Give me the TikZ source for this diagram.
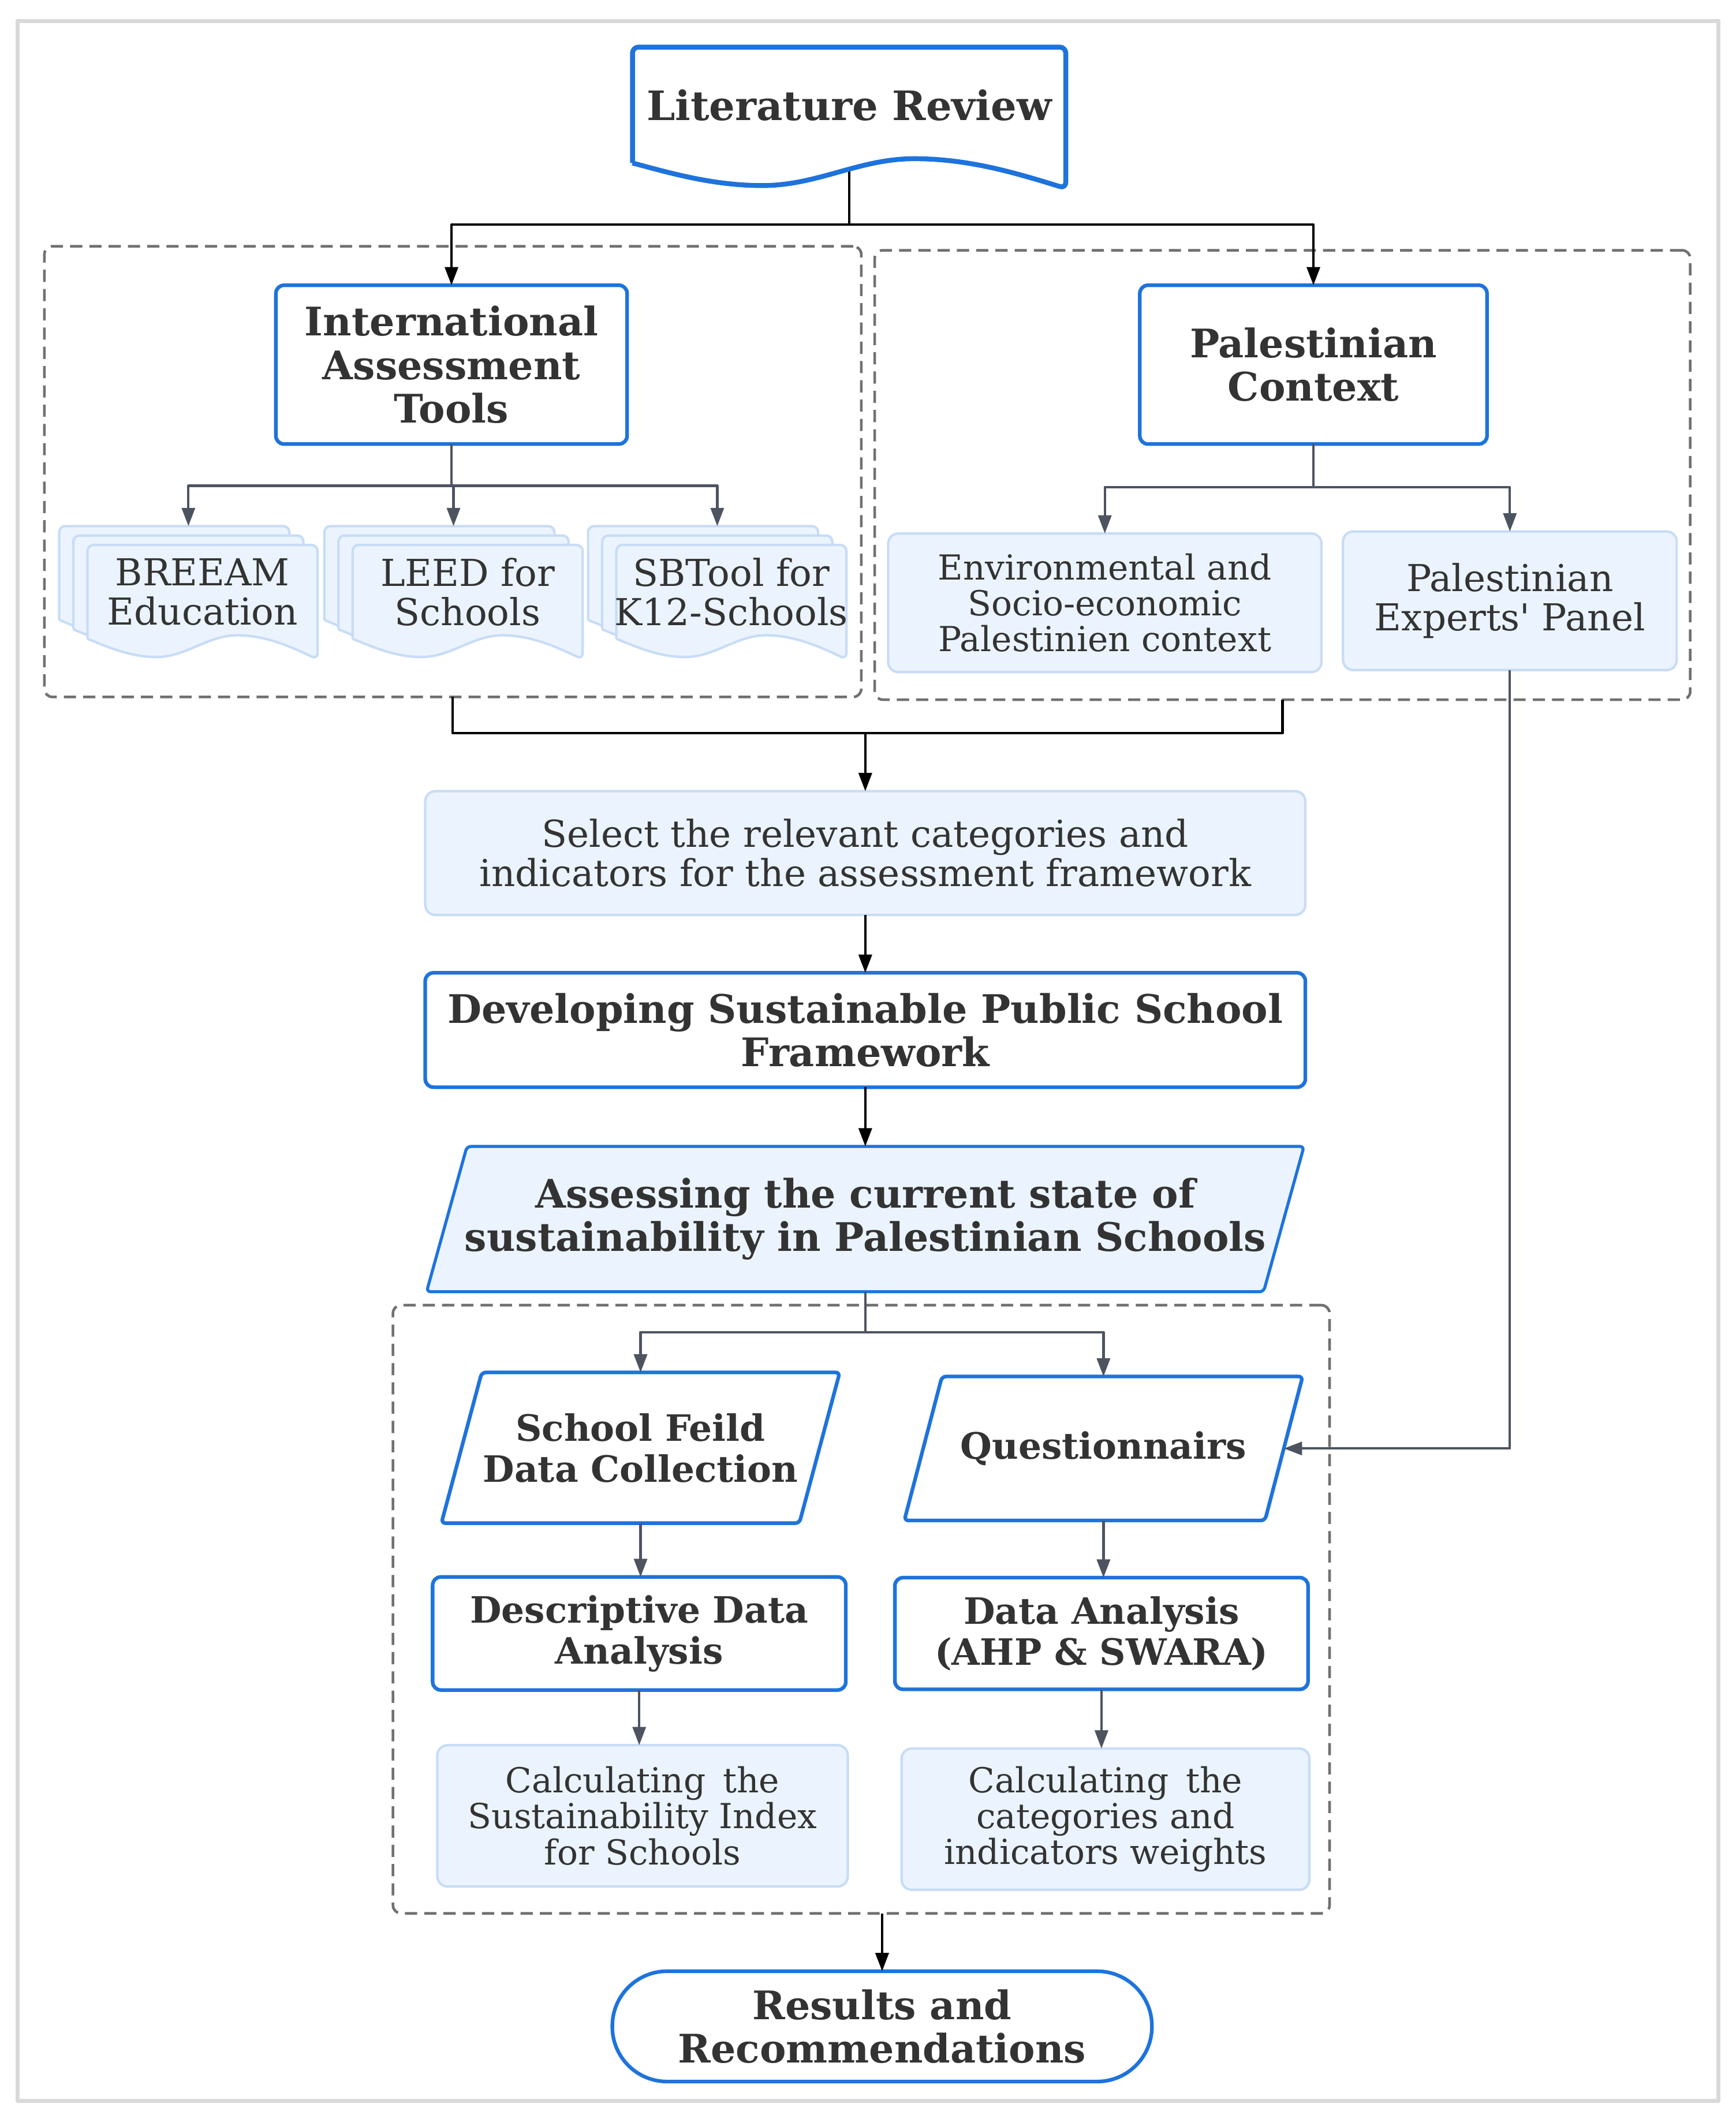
\documentclass[tikz,border=0pt]{standalone}
\usepackage{fontspec}
\setmainfont{DejaVu Serif}
\usetikzlibrary{arrows.meta,positioning,calc,backgrounds}

\definecolor{boxblue}{RGB}{30,115,220}
\definecolor{paleblue}{RGB}{235,244,254}
\definecolor{paleline}{RGB}{200,220,246}
\definecolor{inkgray}{RGB}{51,51,51}
\definecolor{wiregray}{RGB}{77,84,96}
\definecolor{dashgray}{RGB}{112,112,112}
\definecolor{framegray}{RGB}{217,217,217}

\newcommand{\ux}{0.02331cm}
\newcommand{\headfont}{\fontsize{19.4}{21.4}\selectfont\bfseries}
\newcommand{\stepfont}{\fontsize{17.9}{20.2}\selectfont\bfseries}
\newcommand{\bodyfont}{\fontsize{18.3}{19.4}\selectfont}
\newcommand{\smallbody}{\fontsize{17}{17.7}\selectfont}

% sheet with a wavy foot: style, x, y (top), width, height
\newcommand{\wavesheet}[5]{%
  \draw[#1] (#2,{#3+0.82*#5}) [rounded corners=3pt] -- (#2,#3) -- ++(#4,0) -- ++(0,#5)
    [sharp corners] sin ++({-0.35*#4},{-0.21*#5}) cos ++({-0.175*#4},{0.095*#5})
    sin ++({-0.175*#4},{0.095*#5}) cos ++({-0.3*#4},{-0.16*#5}) -- cycle;}
% slanted box round a node: style, node, half slant
\newcommand{\slantoutline}[3]{%
  \draw[#1] ($(#2.north west)+(#3,0)$) -- ($(#2.north east)+(#3,0)$)
    -- ($(#2.south east)-(#3,0)$) -- ($(#2.south west)-(#3,0)$) -- cycle;}

\tikzset{
  every node/.style={text=inkgray, align=center, inner sep=2pt, outer sep=0pt},
  bluebox/.style={draw=boxblue, line width=1.8pt, fill=white, rounded corners=4pt, font=\headfont},
  palebox/.style={draw=paleline, line width=1.2pt, fill=paleblue, rounded corners=5pt, font=\bodyfont},
  headnode/.style={font=\headfont},
  sheetnode/.style={font=\bodyfont},
  groupbox/.style={draw=dashgray, line width=1.3pt, dash pattern=on 6pt off 3.5pt, rounded corners=4pt},
  sheet/.style={draw=paleline, line width=1.2pt, fill=paleblue},
  docline/.style={draw=boxblue, line width=2.4pt, fill=white},
  slantline/.style={draw=boxblue, line width=1.8pt, rounded corners=2pt},
  wire/.style={black, line width=1.2pt},
  graywire/.style={wiregray, line width=1.2pt},
  stadium/.style={draw=boxblue, line width=1.8pt, fill=white, rounded corners=0.95cm, font=\headfont}
}

\begin{document}
\begin{tikzpicture}[x=\ux, y=-\ux, >={Triangle[length=9pt,width=6.5pt]}, line join=round]
  \useasboundingbox (0,0) rectangle (1290,1568.9);
  \draw[framegray, line width=2pt] (13,15.5) rectangle (1277,1561.5);

  % top
  \node (litrev) [headnode, font=\fontsize{20}{22}\selectfont\bfseries, minimum width={322*\ux}, minimum height={86*\ux}] at (631,78) {Literature Review};
  \node (toolsgrp) [groupbox, minimum width={607*\ux}, minimum height={335*\ux}] at (336.5,350.5) {};
  \node (contextgrp) [groupbox, minimum width={606*\ux}, minimum height={334*\ux}] at (953,353) {};
  \node (iat) [bluebox, minimum width={261*\ux}, minimum height={118*\ux}] at (335.5,271) {International\\Assessment\\Tools};
  \node (palctx) [bluebox, minimum width={258*\ux}, minimum height={118*\ux}] at (976,271) {Palestinian\\Context};
  \node (env) [palebox, font=\smallbody, minimum width={322*\ux}, minimum height={103*\ux}] at (821,448) {Environmental and\\Socio-economic\\Palestinien context};
  \node (experts) [palebox, minimum width={248*\ux}, minimum height={103*\ux}] at (1122,446.5) {Palestinian\\Experts\textquotesingle\ Panel};

  % the three tools, each a stack of sheets
  \foreach \sx/\nm/\txt in {44/breeam/{BREEAM\\Education}, 241/leed/{LEED for\\Schools}, 437/sbtool/{SBTool for\\K12-Schools}} {
    \begin{scope}[on background layer]
      \wavesheet{sheet}{\sx}{391}{171}{85}
      \wavesheet{sheet}{\sx+10.5}{398}{171}{85}
      \wavesheet{sheet}{\sx+21}{405}{171}{85}
    \end{scope}
    \node (\nm) [sheetnode, minimum width={171*\ux}, minimum height={70*\ux}] at ({\sx+106.5},440) {\txt};
    \coordinate (\nm top) at ({\sx+96},391);
  }

  % middle
  \node (select) [palebox, minimum width={654*\ux}, minimum height={92*\ux}] at (643,634) {Select the relevant categories and\\indicators for the assessment framework};
  \node (develop) [bluebox, minimum width={654*\ux}, minimum height={85*\ux}] at (643,765.5) {Developing Sustainable Public School\\Framework};
  \node (assess) [headnode, minimum width={622*\ux}, minimum height={108*\ux}] at (643,906) {Assessing the current state of\\sustainability in Palestinian Schools};

  % bottom
  \node (analysisgrp) [groupbox, minimum width={696*\ux}, minimum height={452*\ux}] at (640,1196) {};
  \node (fieldwork) [headnode, font=\stepfont, minimum width={266*\ux}, minimum height={112*\ux}] at (476,1076) {School Feild\\Data Collection};
  \node (quest) [headnode, font=\stepfont, minimum width={268*\ux}, minimum height={107*\ux}] at (820,1076.5) {Questionnairs};
  \node (descr) [bluebox, font=\stepfont, minimum width={307*\ux}, minimum height={84*\ux}] at (475,1214) {Descriptive Data\\Analysis};
  \node (dana) [bluebox, font=\stepfont, minimum width={307*\ux}, minimum height={83*\ux}] at (818.5,1214) {Data Analysis\\(AHP \& SWARA)};
  \node (calcidx) [palebox, font=\smallbody, minimum width={305*\ux}, minimum height={105*\ux}] at (477.5,1349.5) {Calculating\enspace the\\Sustainability Index\\for Schools};
  \node (calcwt) [palebox, font=\smallbody, minimum width={303*\ux}, minimum height={105*\ux}] at (821.5,1352) {Calculating\enspace the\\categories and\\indicators weights};
  \node (results) [stadium, minimum width={401*\ux}, minimum height={82*\ux}] at (655.5,1506) {Results and\\Recommendations};

  \begin{scope}[on background layer]
    \draw[wire] (litrev.south) -- ++(0,46) coordinate (litbus);
    \wavesheet{docline}{470}{35}{322}{105}
    \slantoutline{slantline, line width=1.5pt, fill=paleblue}{assess}{15}
    \slantoutline{slantline, fill=white}{fieldwork}{15}
    \slantoutline{slantline, fill=white}{quest}{14}
  \end{scope}

  % connectors
  \draw[wire,->] (litbus) -| (iat.north);
  \draw[wire,->] (litbus) -| (palctx.north);
  \draw[graywire] (iat.south) -- ++(0,31) coordinate (iatbus);
  \foreach \nm in {breeam,leed,sbtool}
    \draw[graywire,->] (iatbus) -| (\nm top);
  \draw[graywire] (palctx.south) -- ++(0,32) coordinate (ctxbus);
  \draw[graywire,->] (ctxbus) -| (env.north);
  \draw[graywire,->] (ctxbus) -| (experts.north);

  \coordinate (merge) at ($(select.north)+(0,-43)$);
  \draw[wire] (toolsgrp.south) |- (merge) -| (contextgrp.south);
  \draw[wire,->] (merge) -- (select.north);
  \path[wire,->] (select) edge (develop)
    (develop) edge (assess);

  \draw[graywire] (assess.south) -- ++(0,30) coordinate (assessbus);
  \draw[graywire,->] (assessbus) -| (fieldwork.north);
  \draw[graywire,->] (assessbus) -| (quest.north);
  \draw[graywire,->] (experts.south) |- (quest.east);
  \draw[graywire,->] (fieldwork.south) -- (fieldwork.south |- descr.north);
  \draw[graywire,->] (quest.south) -- (quest.south |- dana.north);
  \draw[graywire,->] (descr.south) -- (descr.south |- calcidx.north);
  \draw[graywire,->] (dana.south) -- (dana.south |- calcwt.north);
  \draw[wire,->] (results.north |- analysisgrp.south) -- (results.north);
\end{tikzpicture}
\end{document}
